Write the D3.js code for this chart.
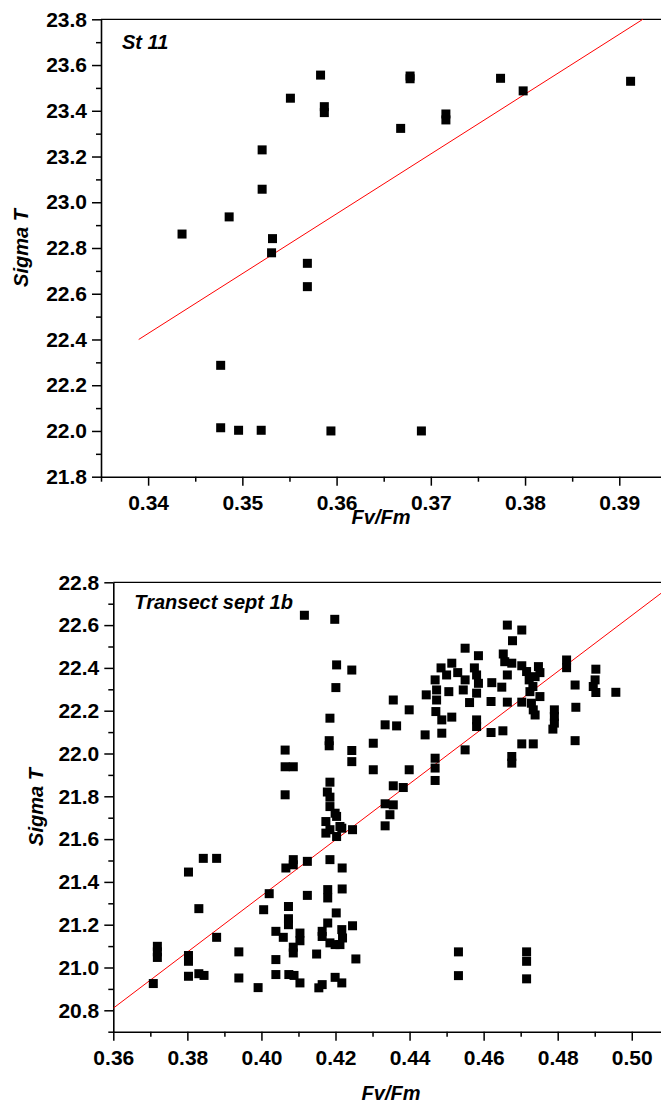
<!DOCTYPE html>
<html>
<head>
<meta charset="utf-8">
<script src="https://d3js.org/d3.v7.min.js"></script>
<style>
  body { margin: 0; background: #fff; }
  text { font-family: "Liberation Sans", Arial, sans-serif; }
</style>
</head>
<body>
<script>
// ---- St 11 (top panel) ----
const st11Fv = [0.3583, 0.3551, 0.3587, 0.3587, 0.3521, 0.3521, 0.3486, 0.3436, 0.3532, 0.3531,
                0.3569, 0.3569, 0.3477, 0.3477, 0.3496, 0.3520, 0.3594, 0.3690, 0.3678, 0.3678,
                0.3668, 0.3716, 0.3716, 0.3774, 0.3798, 0.3912];
const st11Sigma = [23.556, 23.455, 23.418, 23.392, 23.229, 23.057, 22.936, 22.861, 22.841, 22.779,
                   22.733, 22.631, 22.287, 22.014, 22.003, 22.003, 22.000, 22.000, 23.552, 23.540,
                   23.323, 23.386, 23.360, 23.542, 23.487, 23.529];
const st11Fit = [[0.339, 22.40], [0.3925, 23.80]];
const st11XTicks = [0.34, 0.35, 0.36, 0.37, 0.38, 0.39];
const st11XMinor = [0.335, 0.345, 0.355, 0.365, 0.375, 0.385, 0.395];
const st11YTicks = [21.8, 22.0, 22.2, 22.4, 22.6, 22.8, 23.0, 23.2, 23.4, 23.6, 23.8];
const st11YMinor = [21.9, 22.1, 22.3, 22.5, 22.7, 22.9, 23.1, 23.3, 23.5, 23.7];

// ---- Transect sept 1b (bottom panel) ----
const sepFv = [
  0.3708, 0.3719, 0.3719, 0.3719, 0.3803, 0.3803, 0.3803, 0.3803, 0.3831, 0.3831,
  0.3843, 0.3845, 0.3879, 0.3879, 0.3939, 0.3939, 0.3991, 0.4006, 0.4021, 0.4039,
  0.4039, 0.4039, 0.4059, 0.4064, 0.4064, 0.4064, 0.4066, 0.4073, 0.4073, 0.4073,
  0.4074, 0.4086, 0.4086, 0.4086, 0.4086, 0.4086, 0.4088, 0.4104, 0.4104, 0.4104,
  0.4116, 0.4124, 0.4124, 0.4149, 0.4155, 0.4164, 0.4164, 0.4164, 0.4174, 0.4174,
  0.4178, 0.4179, 0.4179, 0.4179, 0.4183, 0.4183, 0.4185, 0.4185, 0.4185, 0.4185,
  0.4185, 0.4185, 0.4185, 0.4198, 0.4199, 0.4199, 0.4199, 0.4201, 0.4202, 0.4203,
  0.4203, 0.4203, 0.4212, 0.4217, 0.4217, 0.4217, 0.4218, 0.4218, 0.4219, 0.4212,
  0.4244, 0.4244, 0.4244, 0.4246, 0.4246, 0.4255, 0.4302, 0.4302, 0.4334, 0.4334,
  0.4334, 0.4347, 0.4356, 0.4356, 0.4356, 0.4365, 0.4383, 0.4399, 0.4399, 0.4442,
  0.4445, 0.4469, 0.4473, 0.4473, 0.4471, 0.4469, 0.4469, 0.4469, 0.4485, 0.4487,
  0.4487, 0.4500, 0.4506, 0.4514, 0.4514, 0.4530, 0.4532, 0.4532, 0.4545, 0.4550,
  0.4550, 0.4550, 0.4562, 0.4575, 0.4581, 0.4586, 0.4581, 0.4581, 0.4581, 0.4586,
  0.4620, 0.4620, 0.4622, 0.4649, 0.4652, 0.4653, 0.4657, 0.4664, 0.4664, 0.4664,
  0.4676, 0.4676, 0.4676, 0.4678, 0.4703, 0.4703, 0.4703, 0.4703, 0.4716, 0.4716,
  0.4716, 0.4716, 0.4723, 0.4725, 0.4729, 0.4733, 0.4734, 0.4734, 0.4739, 0.4739,
  0.4748, 0.4752, 0.4752, 0.4787, 0.4791, 0.4791, 0.4791, 0.4824, 0.4824, 0.4847,
  0.4849, 0.4847, 0.4896, 0.4901, 0.4903, 0.4903, 0.4957
];
const sepSigma = [
  20.925, 21.099, 21.073, 21.047, 21.446, 21.056, 21.029, 20.959, 21.275, 20.971,
  21.510, 20.963, 21.510, 21.141, 21.073, 20.951, 20.906, 21.270, 21.345, 21.169,
  21.037, 20.967, 21.141, 22.016, 21.938, 21.807, 21.465, 21.285, 21.228, 21.200,
  20.967, 21.938, 21.504, 21.480, 21.095, 21.068, 20.963, 21.161, 21.125, 20.928,
  22.646, 21.496, 21.337, 21.063, 20.905, 20.920, 21.169, 21.145, 21.682, 21.628,
  21.820, 21.364, 21.325, 21.208, 22.060, 22.036, 22.165, 21.866, 21.796, 21.752,
  21.644, 21.504, 21.115, 22.627, 21.721, 21.107, 20.954, 22.308, 21.255, 22.414,
  21.706, 21.612, 21.659, 21.651, 21.177, 20.928, 21.465, 21.367, 21.138, 21.107,
  22.390, 22.014, 21.962, 21.644, 21.195, 21.040, 22.048, 21.924, 22.134, 21.765,
  21.662, 21.714, 22.250, 21.849, 21.760, 22.129, 21.841, 22.204, 21.924, 22.087,
  22.274, 22.344, 22.297, 22.250, 22.196, 21.978, 21.932, 21.874, 22.400, 22.157,
  22.095, 22.367, 22.289, 22.422, 22.170, 22.378, 21.073, 20.962, 22.297, 22.492,
  22.344, 22.017, 22.238, 22.400, 22.367, 22.328, 22.282, 22.157, 22.126, 22.457,
  22.243, 22.098, 22.331, 22.310, 22.106, 22.465, 22.429, 22.600, 22.367, 22.240,
  22.422, 21.986, 21.955, 22.527, 22.577, 22.410, 22.240, 22.045, 22.383, 21.073,
  21.029, 20.947, 22.344, 22.289, 22.235, 22.313, 22.204, 22.045, 22.359, 22.180,
  22.406, 22.378, 22.266, 22.114, 22.204, 22.173, 22.142, 22.437, 22.401, 22.320,
  22.216, 22.060, 22.313, 22.344, 22.394, 22.285, 22.286
];
const sepFit = [[0.36, 20.81], [0.508, 22.75]];
const sepXTicks = [0.36, 0.38, 0.40, 0.42, 0.44, 0.46, 0.48, 0.50];
const sepXMinor = [0.37, 0.39, 0.41, 0.43, 0.45, 0.47, 0.49, 0.51];
const sepYTicks = [20.8, 21.0, 21.2, 21.4, 21.6, 21.8, 22.0, 22.2, 22.4, 22.6, 22.8];
const sepYMinor = [20.7, 20.9, 21.1, 21.3, 21.5, 21.7, 21.9, 22.1, 22.3, 22.5, 22.7];

const W = 661, H = 1106;
const svg = d3.select('body').append('svg')
  .attr('width', W).attr('height', H)
  .style('display', 'block');

function panel(cfg) {
  const g = svg.append('g');
  const x = d3.scaleLinear().domain(cfg.xDomain).range([cfg.left, cfg.right]);
  const y = d3.scaleLinear().domain(cfg.yDomain).range([cfg.bottom, cfg.top]);

  // top frame line
  g.append('line')
    .attr('x1', cfg.left).attr('x2', cfg.right)
    .attr('y1', cfg.top).attr('y2', cfg.top)
    .attr('stroke', '#000').attr('stroke-width', 1.2);

  // minor ticks
  const xm = g.append('g').attr('transform', `translate(0,${cfg.bottom})`)
    .call(d3.axisBottom(x).tickValues(cfg.xMinor).tickSize(5).tickSizeOuter(0).tickFormat(''));
  const ym = g.append('g').attr('transform', `translate(${cfg.left},0)`)
    .call(d3.axisLeft(y).tickValues(cfg.yMinor).tickSize(5).tickSizeOuter(0).tickFormat(''));
  xm.select('.domain').remove();
  ym.select('.domain').remove();

  // major ticks + labels
  const xa = g.append('g').attr('transform', `translate(0,${cfg.bottom})`)
    .call(d3.axisBottom(x).tickValues(cfg.xTicks).tickSize(9).tickSizeOuter(0)
      .tickPadding(9).tickFormat(d3.format('.2f')));
  const ya = g.append('g').attr('transform', `translate(${cfg.left},0)`)
    .call(d3.axisLeft(y).tickValues(cfg.yTicks).tickSize(9).tickSizeOuter(0)
      .tickPadding(5).tickFormat(d3.format('.1f')));

  [xa, ya, xm, ym].forEach(a => {
    a.selectAll('line').attr('stroke', '#000').attr('stroke-width', 1.5);
    a.selectAll('.domain').attr('stroke', '#000').attr('stroke-width', 1.6);
    a.selectAll('text').attr('fill', '#000')
      .style('font-size', '21px').style('font-weight', 'bold')
      .style('font-family', '"Liberation Sans", Arial, sans-serif');
  });

  // clip
  const clipId = 'clip' + cfg.id;
  svg.append('clipPath').attr('id', clipId).append('rect')
    .attr('x', cfg.left).attr('y', cfg.top)
    .attr('width', cfg.right - cfg.left).attr('height', cfg.bottom - cfg.top);

  const plot = g.append('g').attr('clip-path', `url(#${clipId})`);

  // fit line
  plot.append('path')
    .datum(cfg.fit)
    .attr('d', d3.line().x(d => x(d[0])).y(d => y(d[1])))
    .attr('fill', 'none').attr('stroke', '#ff0000').attr('stroke-width', 1);

  // points
  const s = 9;
  g.append('g').selectAll('rect')
    .data(d3.range(cfg.xs.length))
    .join('rect')
    .attr('x', i => x(cfg.xs[i]) - s / 2)
    .attr('y', i => y(cfg.ys[i]) - s / 2)
    .attr('width', s).attr('height', s)
    .attr('fill', '#000');

  // panel title
  g.append('text')
    .attr('x', cfg.left + 21).attr('y', cfg.titleY)
    .style('font-size', '20px').style('font-weight', 'bold').style('font-style', 'italic')
    .text(cfg.title);

  // axis titles
  g.append('text')
    .attr('x', cfg.xLabelX).attr('y', cfg.xLabelY)
    .attr('text-anchor', 'middle')
    .style('font-size', '20px').style('font-weight', 'bold').style('font-style', 'italic')
    .text('Fv/Fm');

  g.append('text')
    .attr('transform', `translate(${cfg.yLabelX},${(cfg.top + cfg.bottom) / 2}) rotate(-90)`)
    .attr('text-anchor', 'middle')
    .style('font-size', '20px').style('font-weight', 'bold').style('font-style', 'italic')
    .text('Sigma T');
}

panel({
  id: 'a', left: 101, right: 666.4, top: 19.3, bottom: 476.7,
  xDomain: [0.335, 0.395], yDomain: [21.8, 23.8],
  xTicks: st11XTicks, xMinor: st11XMinor, yTicks: st11YTicks, yMinor: st11YMinor,
  xs: st11Fv, ys: st11Sigma, fit: st11Fit,
  title: 'St 11', titleY: 48.5, xLabelX: 381, xLabelY: 524, yLabelX: 28
});

panel({
  id: 'b', left: 113.3, right: 668.8, top: 582.3, bottom: 1031.7,
  xDomain: [0.36, 0.51], yDomain: [20.7, 22.8],
  xTicks: sepXTicks, xMinor: sepXMinor, yTicks: sepYTicks, yMinor: sepYMinor,
  xs: sepFv, ys: sepSigma, fit: sepFit,
  title: 'Transect sept 1b', titleY: 609.3, xLabelX: 391, xLabelY: 1100, yLabelX: 43
});
</script>
</body>
</html>
